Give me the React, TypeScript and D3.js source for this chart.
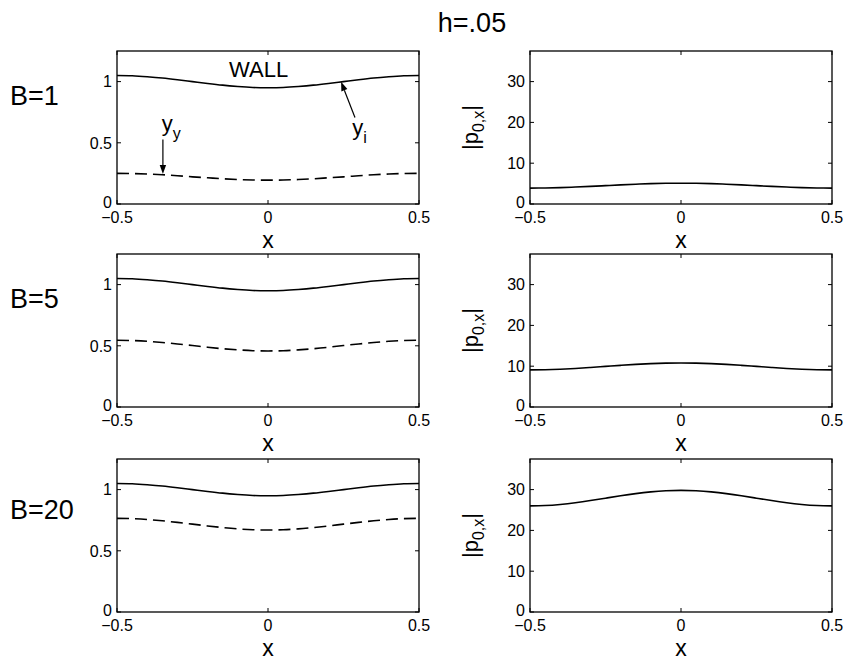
import React from "react";
import * as d3 from "d3";

// Grid of x positions along the channel
const xGrid = [
  -0.5, -0.45, -0.4, -0.35, -0.3, -0.25, -0.2, -0.15, -0.1, -0.05, 0,
  0.05, 0.1, 0.15, 0.2, 0.25, 0.3, 0.35, 0.4, 0.45, 0.5,
];

// Wall position y_i (same for every B)
const wallY = [
  1.05, 1.048, 1.04, 1.029, 1.015, 1.0, 0.985, 0.971, 0.96, 0.952, 0.95,
  0.952, 0.96, 0.971, 0.985, 1.0, 1.015, 1.029, 1.04, 1.048, 1.05,
];

// Yield surface y_y for B = 1, 5, 20
const yieldB1 = [
  0.25, 0.249, 0.245, 0.239, 0.231, 0.222, 0.214, 0.206, 0.2, 0.196, 0.195,
  0.196, 0.2, 0.206, 0.214, 0.222, 0.231, 0.239, 0.245, 0.249, 0.25,
];
const yieldB5 = [
  0.545, 0.543, 0.537, 0.527, 0.515, 0.502, 0.488, 0.476, 0.467, 0.46, 0.458,
  0.46, 0.467, 0.476, 0.488, 0.502, 0.515, 0.527, 0.537, 0.543, 0.545,
];
const yieldB20 = [
  0.765, 0.763, 0.756, 0.745, 0.732, 0.718, 0.703, 0.69, 0.679, 0.672, 0.67,
  0.672, 0.679, 0.69, 0.703, 0.718, 0.732, 0.745, 0.756, 0.763, 0.765,
];

// Pressure gradient magnitude |p_{0,x}| for B = 1, 5, 20
const gradB1 = [
  3.9, 3.93, 4.01, 4.15, 4.31, 4.5, 4.69, 4.85, 4.99, 5.07, 5.1,
  5.07, 4.99, 4.85, 4.69, 4.5, 4.31, 4.15, 4.01, 3.93, 3.9,
];
const gradB5 = [
  9.1, 9.14, 9.26, 9.45, 9.69, 9.95, 10.21, 10.45, 10.64, 10.76, 10.8,
  10.76, 10.64, 10.45, 10.21, 9.95, 9.69, 9.45, 9.26, 9.14, 9.1,
];
const gradB20 = [
  26.0, 26.09, 26.36, 26.78, 27.31, 27.9, 28.49, 29.02, 29.44, 29.71, 29.8,
  29.71, 29.44, 29.02, 28.49, 27.9, 27.31, 26.78, 26.36, 26.09, 26.0,
];

const rowLabels = ["B=1", "B=5", "B=20"];
const yieldSeries = [yieldB1, yieldB5, yieldB20];
const gradSeries = [gradB1, gradB5, gradB20];

const xTicks = [-0.5, 0, 0.5];
const leftYTicks = [0, 0.5, 1];
const rightYTicks = [0, 10, 20, 30];
const leftYDomain = [0, 1.25];
const rightYDomain = [0, 37.5];

const FONT = "'Liberation Sans', Arial, Helvetica, sans-serif";
const W = 847;
const H = 662;
const colX = [117, 530];
const rowY = [51, 254, 459];
const PW = 302;
const PH = 153;
const TICK = 4;

const fmt = d3.format("");

type Series = { values: number[]; dashed?: boolean };

function Panel({
  x0,
  y0,
  yDomain,
  yTicks,
  series,
  children,
}: {
  x0: number;
  y0: number;
  yDomain: number[];
  yTicks: number[];
  series: Series[];
  children?: (
    xs: d3.ScaleLinear<number, number>,
    ys: d3.ScaleLinear<number, number>
  ) => React.ReactNode;
}) {
  const xs = d3.scaleLinear().domain([-0.5, 0.5]).range([x0, x0 + PW]);
  const ys = d3.scaleLinear().domain(yDomain).range([y0 + PH, y0]);
  const line = d3
    .line<number>()
    .x((_, i) => xs(xGrid[i]))
    .y((d) => ys(d))
    .curve(d3.curveNatural);
  const bottom = y0 + PH;
  return (
    <g>
      <rect x={x0} y={y0} width={PW} height={PH} fill="#fff" stroke="none" />
      {series.map((s, i) => (
        <path
          key={i}
          d={line(s.values) || ""}
          fill="none"
          stroke="#000"
          strokeWidth={1.6}
          strokeDasharray={s.dashed ? "12,6" : undefined}
        />
      ))}
      {/* axis box */}
      <rect
        x={x0}
        y={y0}
        width={PW}
        height={PH}
        fill="none"
        stroke="#000"
        strokeWidth={1.3}
      />
      {/* x ticks, inward on top and bottom */}
      {xTicks.map((t) => (
        <g key={"x" + t}>
          <line x1={xs(t)} x2={xs(t)} y1={bottom} y2={bottom - TICK} stroke="#000" strokeWidth={1} />
          <line x1={xs(t)} x2={xs(t)} y1={y0} y2={y0 + TICK} stroke="#000" strokeWidth={1} />
          <text
            x={xs(t)}
            y={bottom + 19}
            textAnchor="middle"
            fontSize={16}
            fontFamily={FONT}
          >
            {fmt(t)}
          </text>
        </g>
      ))}
      {/* y ticks, inward on left and right */}
      {yTicks.map((t) => (
        <g key={"y" + t}>
          <line x1={x0} x2={x0 + TICK} y1={ys(t)} y2={ys(t)} stroke="#000" strokeWidth={1} />
          <line x1={x0 + PW} x2={x0 + PW - TICK} y1={ys(t)} y2={ys(t)} stroke="#000" strokeWidth={1} />
          <text
            x={x0 - 5}
            y={ys(t) - (t === 0 ? 2 : 0)}
            dy="0.36em"
            textAnchor="end"
            fontSize={16}
            fontFamily={FONT}
          >
            {fmt(t)}
          </text>
        </g>
      ))}
      <text
        x={x0 + PW / 2}
        y={bottom + 44}
        textAnchor="middle"
        fontSize={23}
        fontFamily={FONT}
      >
        x
      </text>
      {children ? children(xs, ys) : null}
    </g>
  );
}

function Arrow({
  x1,
  y1,
  x2,
  y2,
}: {
  x1: number;
  y1: number;
  x2: number;
  y2: number;
}) {
  const ang = Math.atan2(y2 - y1, x2 - x1);
  const L = 9;
  const Wd = 3.2;
  const bx = x2 - L * Math.cos(ang);
  const by = y2 - L * Math.sin(ang);
  const px = -Math.sin(ang) * Wd;
  const py = Math.cos(ang) * Wd;
  return (
    <g>
      <line x1={x1} y1={y1} x2={bx} y2={by} stroke="#000" strokeWidth={1.2} />
      <polygon
        points={`${x2},${y2} ${bx + px},${by + py} ${bx - px},${by - py}`}
        fill="#000"
      />
    </g>
  );
}

export default function App() {
  return (
    <svg
      width={W}
      height={H}
      style={{ position: "absolute", left: 0, top: 0, background: "#fff" }}
      fontFamily={FONT}
    >
      <rect x={0} y={0} width={W} height={H} fill="#fff" />
      <text x={472} y={32} textAnchor="middle" fontSize={27} fontFamily={FONT}>
        h=.05
      </text>
      {rowY.map((y0, r) => (
        <g key={r}>
          <text x={10} y={y0 + (r === 2 ? 60 : 54)} fontSize={27} fontFamily={FONT}>
            {rowLabels[r]}
          </text>
          <Panel
            x0={colX[0]}
            y0={y0}
            yDomain={leftYDomain}
            yTicks={leftYTicks}
            series={[{ values: wallY }, { values: yieldSeries[r], dashed: true }]}
          >
            {r === 0
              ? (xs, ys) => (
                  <g fontFamily={FONT}>
                    <text x={xs(-0.129)} y={ys(1.035)} fontSize={22}>
                      WALL
                    </text>
                    <Arrow x1={xs(0.288)} y1={ys(0.707)} x2={xs(0.242)} y2={ys(0.998)} />
                    <text x={xs(0.279)} y={ys(0.56)} fontSize={22}>
                      y
                      <tspan fontSize={16} dy={8}>
                        i
                      </tspan>
                    </text>
                    <Arrow x1={xs(-0.348)} y1={ys(0.526)} x2={xs(-0.348)} y2={ys(0.245)} />
                    <text x={xs(-0.352)} y={ys(0.6)} fontSize={22}>
                      y
                      <tspan fontSize={16} dy={8}>
                        y
                      </tspan>
                    </text>
                  </g>
                )
              : undefined}
          </Panel>
          <Panel
            x0={colX[1]}
            y0={y0}
            yDomain={rightYDomain}
            yTicks={rightYTicks}
            series={[{ values: gradSeries[r] }]}
          />
          <text
            transform={`translate(478,${y0 + PH / 2}) rotate(-90)`}
            textAnchor="middle"
            fontSize={22}
            fontFamily={FONT}
          >
            |p
            <tspan fontSize={16} dy={6}>
              0,x
            </tspan>
            <tspan dy={-6}>|</tspan>
          </text>
        </g>
      ))}
    </svg>
  );
}
